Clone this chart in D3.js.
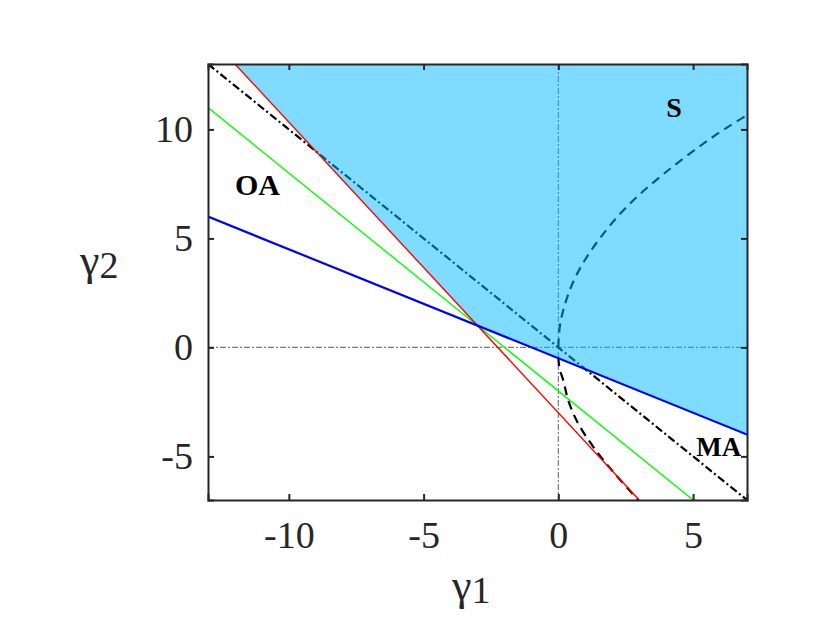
<!DOCTYPE html>
<html><head><meta charset="utf-8">
<script src="https://cdn.jsdelivr.net/npm/d3@7/dist/d3.min.js"></script>
<style>body{margin:0;background:#fff} text{font-family:'Liberation Serif','Times New Roman','DejaVu Serif',serif;}</style>
</head><body>
<script>
const xDomain = [-13, 7];
const yDomain = [-7, 13];
const xTicks = [-10, -5, 0, 5];
const yTicks = [-5, 0, 5, 10];
const blueLine = [[-13, 6], [7, -4]];
const greenLine = [[-13, 11], [5, -7]];
const redLine = [[-12, 13], [3, -7]];
const blackLine = [[-13, 13], [7, -7]];
const upperCurve = [[0,0],[0.06,1],[0.25,2],[0.55,3],[0.98,4],[1.54,5],[2.2,6],[3.0,7],[3.95,8],[5.0,9],[6.15,10],[7,10.65]];
const lowerCurve = [[0,-0.45],[0.05,-1],[0.18,-1.5],[0.36,-2.4],[0.74,-3.5],[1.29,-4.55],[1.79,-5.35],[2.41,-6.24],[2.97,-7]];
const stableRegion = [[-12,13],[-3,1],[7,-4],[7,13]];
const regionLabels = [{t:"OA", x:-12.0, y:7.0, size:30}, {t:"MA", x:5.12, y:-5.0, size:27}];
const sLabel = {t:"S", x:4.0, y:10.55};

const W = 830, H = 623;
const L = 208, R = 747, T = 64, B = 500;
const FONT = "'Liberation Serif','Times New Roman','DejaVu Serif',serif";
const svg = d3.select("body").append("svg").attr("width", W).attr("height", H);
const x = d3.scaleLinear().domain(xDomain).range([L, R]);
const y = d3.scaleLinear().domain(yDomain).range([B, T]);
const line = d3.line().x(d => x(d[0])).y(d => y(d[1]));
const curve = d3.line().x(d => x(d[0])).y(d => y(d[1])).curve(d3.curveMonotoneY);

svg.append("defs").append("clipPath").attr("id","clip").append("rect")
  .attr("x", L).attr("y", T).attr("width", R-L).attr("height", B-T);
const g = svg.append("g").attr("clip-path","url(#clip)");

// reference lines
g.append("line").attr("x1", x(0)).attr("x2", x(0)).attr("y1", T).attr("y2", B)
  .attr("stroke", "#7a7a7a").attr("stroke-width", 1.2).attr("stroke-dasharray", "6,2,2,2");
g.append("line").attr("x1", L).attr("x2", R).attr("y1", y(0)).attr("y2", y(0))
  .attr("stroke", "#7a7a7a").attr("stroke-width", 1.2).attr("stroke-dasharray", "6,2,2,2");

// black dash-dot y=-x
g.append("path").datum(blackLine).attr("d", line).attr("fill","none")
  .attr("stroke","#000").attr("stroke-width",2.2).attr("stroke-dasharray","8,3,2,3");
// curves
g.append("path").datum(upperCurve).attr("d", curve).attr("fill","none")
  .attr("stroke","#000").attr("stroke-width",2.2).attr("stroke-dasharray","9,6");
g.append("path").datum(lowerCurve).attr("d", curve).attr("fill","none")
  .attr("stroke","#000").attr("stroke-width",2.2).attr("stroke-dasharray","9,6");

// S label (under fill)
svg.append("text").attr("x", x(sLabel.x)).attr("y", y(sLabel.y)).text(sLabel.t)
  .style("font-family",FONT).attr("font-weight","bold").attr("font-size",28).attr("fill","#000");

// axes
const fmt = d => String(d);
const ax = svg.append("g");
const xb = ax.append("g").attr("transform",`translate(0,${B})`)
  .call(d3.axisBottom(x).tickValues(xTicks).tickSize(-6).tickFormat(fmt));
const xt = ax.append("g").attr("transform",`translate(0,${T})`)
  .call(d3.axisTop(x).tickValues(xTicks).tickSize(-6).tickFormat(""));
const yl = ax.append("g").attr("transform",`translate(${L},0)`)
  .call(d3.axisLeft(y).tickValues(yTicks).tickSize(-6).tickFormat(fmt));
const yr = ax.append("g").attr("transform",`translate(${R},0)`)
  .call(d3.axisRight(y).tickValues(yTicks).tickSize(-6).tickFormat(""));
ax.selectAll("g").attr("font-family", null);
ax.selectAll(".domain").attr("stroke","#262626").attr("stroke-width",2);
ax.selectAll(".tick line").attr("stroke","#262626").attr("stroke-width",2);
ax.selectAll("text").style("font-family",FONT).attr("font-size",38).attr("fill","#262626");
xb.selectAll("text").attr("y", 21).attr("dy", "0.71em");
yl.selectAll("text").attr("x", -15).attr("dy","0.33em");

// fill region (semi-transparent)
g.append("path").attr("d", line(stableRegion)+"Z")
  .attr("fill","rgb(0,183,255)").attr("fill-opacity",0.5);

// coloured lines on top
g.append("path").datum(greenLine).attr("d", line).attr("fill","none").attr("stroke","#00ff00").attr("stroke-width",1.4);
g.append("path").datum(redLine).attr("d", line).attr("fill","none").attr("stroke","#ff0000").attr("stroke-width",1.4);
g.append("path").datum(blueLine).attr("d", line).attr("fill","none").attr("stroke","#0000ff").attr("stroke-width",2.2);

// region labels
regionLabels.forEach(l => {
  svg.append("text").attr("x", x(l.x)).attr("y", y(l.y)).text(l.t)
    .style("font-family",FONT).attr("font-weight","bold").attr("font-size",l.size).attr("fill","#000");
});

// axis titles
const t1 = svg.append("text").attr("x", 452).attr("y", 600)
  .style("font-family",FONT).attr("font-size",44).attr("fill","#262626");
t1.append("tspan").text("γ");
t1.append("tspan").attr("dy", 3).attr("font-size", 38).text("1");
const t2 = svg.append("text").attr("x", 80).attr("y", 275)
  .style("font-family",FONT).attr("font-size",44).attr("fill","#262626");
t2.append("tspan").text("γ");
t2.append("tspan").attr("dy", 3).attr("font-size", 38).text("2");
</script>
</body></html>
